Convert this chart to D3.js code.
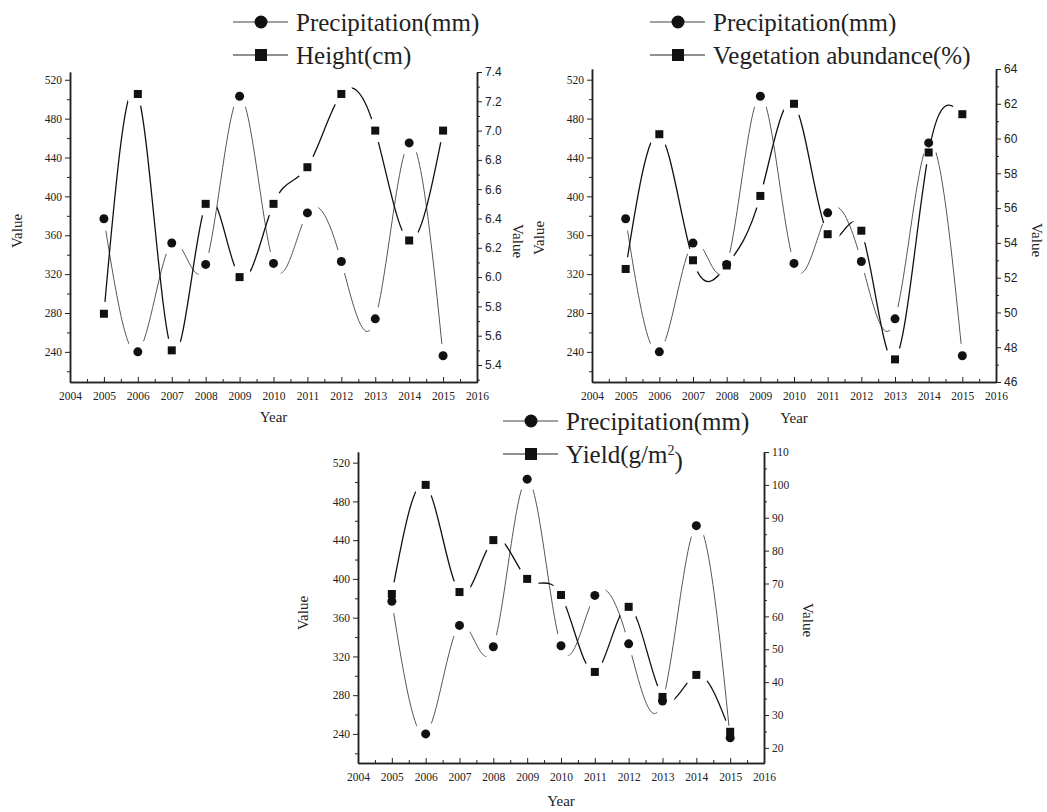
<!DOCTYPE html>
<html>
<head>
<meta charset="utf-8">
<script src="https://cdn.jsdelivr.net/npm/d3@7"></script>
<style>
  body { margin: 0; background: #fff; }
  svg  { display: block; }
  text { font-family: "Liberation Serif", "Times New Roman", serif; fill: #222; }
</style>
</head>
<body>
<svg width="1047" height="812"></svg>
<script>
// data
const years         = [2005, 2006, 2007, 2008, 2009, 2010, 2011, 2012, 2013, 2014, 2015];
const precipitation = [377, 240, 352, 330, 503, 331, 383, 333, 274, 455, 236];
const plantHeight   = [5.75, 7.25, 5.5, 6.5, 6.0, 6.5, 6.75, 7.25, 7.0, 6.25, 7.0];
const vegetation    = [52.5, 60.25, 53.0, 52.7, 56.7, 62.0, 54.5, 54.7, 47.3, 59.2, 61.4];
const yieldGm2      = [66.8, 100, 67.4, 83.2, 71.4, 66.5, 43.1, 62.9, 35.5, 42.2, 24.9];

const yearTicks   = [2004, 2005, 2006, 2007, 2008, 2009, 2010, 2011, 2012, 2013, 2014, 2015, 2016];
const precipTicks = [240, 280, 320, 360, 400, 440, 480, 520];
const heightTicks = [5.4, 5.6, 5.8, 6.0, 6.2, 6.4, 6.6, 6.8, 7.0, 7.2, 7.4];
const vegTicks    = [46, 48, 50, 52, 54, 56, 58, 60, 62, 64];
const yieldTicks  = [20, 30, 40, 50, 60, 70, 80, 90, 100, 110];

const SERIF = "'Liberation Serif', 'Times New Roman', serif";
const SANS  = "'Liberation Sans', Arial, sans-serif";

const svg = d3.select("svg");

const panels = [
  { id: "p1", x0: 70, x1: 477, yTop: 72, yBot: 382,
    leftDomain: [209, 528], rightDomain: [5.284, 7.4],
    rightTicks: heightTicks, rightStep: 0.2, rightFmt: d3.format(".1f"), rightSans: true,
    values: plantHeight, name: "Height(cm)",
    legendX: 233, legendY: 22,
    leftTitle: [17, 231], rightTitle: [518, 241], yearY: 422 },
  { id: "p2", x0: 592, x1: 996, yTop: 69, yBot: 382,
    leftDomain: [209, 531], rightDomain: [46, 64],
    rightTicks: vegTicks, rightStep: 2, rightFmt: d3.format("d"), rightSans: true,
    values: vegetation, name: "Vegetation abundance(%)",
    legendX: 650, legendY: 22,
    leftTitle: [539, 238], rightTitle: [1037, 240], yearY: 423 },
  { id: "p3", x0: 358, x1: 764, yTop: 452, yBot: 763,
    leftDomain: [210, 531], rightDomain: [15.4, 110],
    rightTicks: yieldTicks, rightStep: 10, rightFmt: d3.format("d"), rightSans: false,
    values: yieldGm2, name: "Yield", sup: true,
    legendX: 503, legendY: 421,
    leftTitle: [303, 613], rightTitle: [808, 620], yearY: 806 }
];

function styleAxis(g, sans) {
  g.select(".domain").attr("stroke", "#222").attr("stroke-width", 1.5);
  g.selectAll(".tick line").attr("stroke", "#222").attr("stroke-width", 1);
  g.selectAll(".tick text")
    .attr("fill", "#333")
    .style("font-family", sans ? SANS : SERIF)
    .style("font-size", sans ? "12px" : "11.5px");
}

function drawPanel(p) {
  const g = svg.append("g");
  const x  = d3.scaleLinear().domain([2004, 2016]).range([p.x0, p.x1]);
  const yL = d3.scaleLinear().domain(p.leftDomain).range([p.yBot, p.yTop]);
  const yR = d3.scaleLinear().domain(p.rightDomain).range([p.yBot, p.yTop]);

  // minor ticks
  const xMinor = d3.range(2004.5, 2016, 1);
  const lMinor = d3.range(220, 530, 40);
  const rMinor = p.rightTicks.map(t => t - p.rightStep / 2).filter(t => t > p.rightDomain[0]);

  g.append("g").attr("transform", `translate(0,${p.yBot})`)
    .call(d3.axisBottom(x).tickValues(xMinor).tickSize(-3).tickSizeOuter(0).tickFormat(""))
    .call(a => styleAxis(a, false));
  g.append("g").attr("transform", `translate(0,${p.yBot})`)
    .call(d3.axisBottom(x).tickValues(yearTicks).tickSize(-5).tickSizeOuter(0).tickFormat(d3.format("d")))
    .call(a => styleAxis(a, false))
    .call(a => a.selectAll(".tick text").attr("y", 10));

  g.append("g").attr("transform", `translate(${p.x0},0)`)
    .call(d3.axisLeft(yL).tickValues(lMinor).tickSize(3).tickSizeOuter(0).tickFormat(""))
    .call(a => styleAxis(a, false));
  g.append("g").attr("transform", `translate(${p.x0},0)`)
    .call(d3.axisLeft(yL).tickValues(precipTicks).tickSize(5).tickSizeOuter(0))
    .call(a => styleAxis(a, false));

  g.append("g").attr("transform", `translate(${p.x1},0)`)
    .call(d3.axisRight(yR).tickValues(rMinor).tickSize(3).tickSizeOuter(0).tickFormat(""))
    .call(a => styleAxis(a, p.rightSans));
  g.append("g").attr("transform", `translate(${p.x1},0)`)
    .call(d3.axisRight(yR).tickValues(p.rightTicks).tickSize(5).tickSizeOuter(0).tickFormat(p.rightFmt))
    .call(a => styleAxis(a, p.rightSans));

  // axis titles
  g.append("text").attr("x", (p.x0 + p.x1) / 2).attr("y", p.yearY)
    .attr("text-anchor", "middle").style("font-family", SERIF).style("font-size", "15px").text("Year");
  g.append("text").attr("transform", `translate(${p.leftTitle[0]},${p.leftTitle[1]}) rotate(-90)`)
    .attr("text-anchor", "middle").attr("dy", "0.35em")
    .style("font-family", SERIF).style("font-size", "15px").text("Value");
  g.append("text").attr("transform", `translate(${p.rightTitle[0]},${p.rightTitle[1]}) rotate(90)`)
    .attr("text-anchor", "middle").attr("dy", "0.35em")
    .style("font-family", SERIF).style("font-size", "15px").text("Value");

  // lines with gaps around their own symbols
  const series = [
    { key: "pr", vals: precipitation, y: yL, shape: "circle", stroke: "#555", width: 1 },
    { key: "s2", vals: p.values, y: yR, shape: "square", stroke: "#111", width: 1.3 }
  ];
  const defs = svg.append("defs");
  series.forEach(s => {
    const mid = `${p.id}-${s.key}-mask`;
    const m = defs.append("mask").attr("id", mid).attr("maskUnits", "userSpaceOnUse")
      .attr("x", 0).attr("y", 0).attr("width", 1047).attr("height", 812);
    m.append("rect").attr("width", 1047).attr("height", 812).attr("fill", "#fff");
    m.selectAll("circle").data(years).enter().append("circle")
      .attr("cx", d => x(d)).attr("cy", (d, i) => s.y(s.vals[i])).attr("r", 12).attr("fill", "#000");

    const line = d3.line().x(d => x(d)).y((d, i) => s.y(s.vals[i])).curve(d3.curveNatural);
    g.append("path").datum(years).attr("d", line)
      .attr("fill", "none").attr("stroke", s.stroke).attr("stroke-width", s.width)
      .attr("mask", `url(#${mid})`);
  });

  series.forEach(s => {
    if (s.shape === "circle") {
      g.selectAll(null).data(years).enter().append("circle")
        .attr("cx", d => x(d)).attr("cy", (d, i) => s.y(s.vals[i])).attr("r", 4.5).attr("fill", "#111");
    } else {
      g.selectAll(null).data(years).enter().append("rect")
        .attr("x", d => x(d) - 4).attr("y", (d, i) => s.y(s.vals[i]) - 4)
        .attr("width", 8).attr("height", 8).attr("fill", "#111");
    }
  });

  // legend
  const lg = g.append("g").attr("transform", `translate(${p.legendX},${p.legendY})`);
  [0, 1].forEach(r => {
    const row = lg.append("g").attr("transform", `translate(0,${r * 33})`);
    row.append("line").attr("x1", 0).attr("x2", 55).attr("y1", 0).attr("y2", 0)
      .attr("stroke", r === 0 ? "#444" : "#222").attr("stroke-width", 1.2);
    if (r === 0) row.append("circle").attr("cx", 28).attr("cy", 0).attr("r", 6.5).attr("fill", "#111");
    else row.append("rect").attr("x", 22).attr("y", -6).attr("width", 12).attr("height", 12).attr("fill", "#111");
    const t = row.append("text").attr("x", 63).attr("dy", "0.35em")
      .style("font-family", SERIF).style("font-size", "25px");
    if (r === 0) t.text("Precipitation(mm)");
    else if (p.sup) {
      t.append("tspan").text(p.name + "(g/m");
      t.append("tspan").attr("dy", "-0.55em").style("font-size", "14px").text("2");
      t.append("tspan").attr("dy", "0.55em").text(")");
    } else t.text(p.name);
  });
}

panels.forEach(drawPanel);
</script>
</body>
</html>
